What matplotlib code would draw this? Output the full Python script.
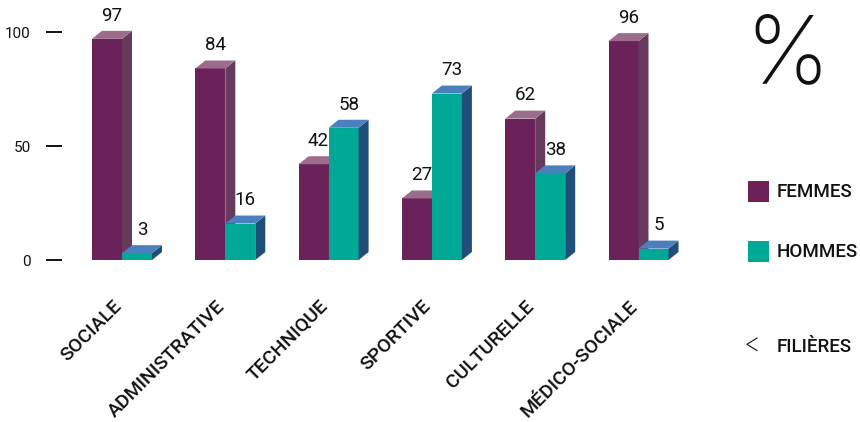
import matplotlib
matplotlib.use("Agg")
import matplotlib.pyplot as plt
from matplotlib.patches import Polygon, Rectangle
from matplotlib.transforms import offset_copy
from matplotlib import font_manager

categories = ["SOCIALE", "ADMINISTRATIVE", "TECHNIQUE", "SPORTIVE", "CULTURELLE", "MÉDICO-SOCIALE"]
femmes = [97, 84, 42, 27, 62, 96]
hommes = [3, 16, 58, 73, 38, 5]
yticks = [0, 50, 100]
series_names = ["FEMMES", "HOMMES"]
axis_note = "FILIÈRES"

c_f_front, c_f_side, c_f_top = "#6b2159", "#663a5c", "#9b6d8b"
c_h_front, c_h_side, c_h_top = "#00a896", "#1f4e78", "#4a80bd"

W, H, DPI = 860, 422, 100
fig = plt.figure(figsize=(W / DPI, H / DPI), dpi=DPI)
plt.rcParams["font.family"] = ["Roboto", "DejaVu Sans"]

# find a thin font if one is installed
light_family, light_weight = "Roboto", "light"
_best = None
for f in font_manager.fontManager.ttflist:
    if f.name in ("Roboto", "Inter", "Lato", "Open Sans", "Noto Sans", "DejaVu Sans") and f.style == "normal":
        wgt = f.weight if isinstance(f.weight, int) else 400
        if wgt <= 300 and (_best is None or wgt < _best[1]):
            _best = (f.name, wgt)
if _best:
    light_family, light_weight = _best[0], max(_best[1], 200)

# pixel geometry
left_px, right_px, zero_px, top_px = 62, 700, 260, 0
c0, step = 122, 103.3
px_per_unit = 2.28
ax = fig.add_axes([left_px / W, (H - zero_px) / H, (right_px - left_px) / W, (zero_px - top_px) / H])
ax.set_xlim((left_px - c0) / step, (right_px - c0) / step)
ax.set_ylim(0, (zero_px - top_px) / px_per_unit)
for s in ax.spines.values():
    s.set_visible(False)
ax.patch.set_alpha(0)

w = 30 / step
dx = 10 / step
dy = 8 / px_per_unit
xs = list(range(len(categories)))

def draw3d(xpos, vals, front, side, top, z):
    bars = ax.bar(xpos, vals, width=w, align="edge", color=front, zorder=z, linewidth=0)
    for b, v in zip(bars, vals):
        x0 = b.get_x()
        x1 = x0 + b.get_width()
        ax.add_patch(Polygon([(x1, 0), (x1 + dx, dy), (x1 + dx, v + dy), (x1, v)],
                             closed=True, facecolor=side, lw=0, zorder=z, clip_on=False))
        ax.add_patch(Polygon([(x0, v), (x0 + dx, v + dy), (x1 + dx, v + dy), (x1, v)],
                             closed=True, facecolor=top, lw=0, zorder=z, clip_on=False))
        ax.annotate(str(v), (x0 + b.get_width() / 2 + dx / 2, v + dy), xytext=(0, 4.5),
                    textcoords="offset points", ha="center", va="bottom",
                    fontsize=13.5, color="#111111", zorder=z + 1)

draw3d([x - w for x in xs], femmes, c_f_front, c_f_side, c_f_top, 2)
draw3d(xs, hommes, c_h_front, c_h_side, c_h_top, 4)

ax.set_xticks([])
ax.set_yticks(yticks)
ax.set_yticklabels([str(t) for t in yticks], fontsize=11, color="#111111")
ax.tick_params(axis="y", length=11.5, width=1.4, color="#111111", pad=11)

# category labels
tr = offset_copy(ax.transData, fig=fig, x=0, y=-47, units="dots")
for x, lab in zip(xs, categories):
    ax.text(x, 0, lab, transform=tr, rotation=45, rotation_mode="anchor",
            ha="right", va="baseline", fontsize=14, fontweight="medium", color="#111111")

# legend and notes
def fx(p):
    return p / W

def fy(p):
    return 1 - p / H

fig.text(fx(787), fy(82), "%", fontsize=68, family=light_family, fontweight=light_weight,
         ha="center", va="baseline", color="#111111")
for name, col, ypix in [(series_names[0], c_f_front, 191), (series_names[1], c_h_front, 251)]:
    fig.add_artist(Rectangle((fx(748), fy(ypix + 10.5)), 21 / W, 21 / H, transform=fig.transFigure,
                             facecolor=col, lw=0))
    fig.text(fx(777), fy(ypix + 1), name, fontsize=13.5, fontweight="medium", va="center", ha="left", color="#111111")
fig.text(fx(752), fy(346), "<", fontsize=19, family=light_family, fontweight=light_weight,
         va="center", ha="center", color="#111111")
fig.text(fx(777), fy(347), axis_note, fontsize=13.5, fontweight="medium", va="center", ha="left", color="#111111")

fig.savefig("out.png", dpi=DPI)
